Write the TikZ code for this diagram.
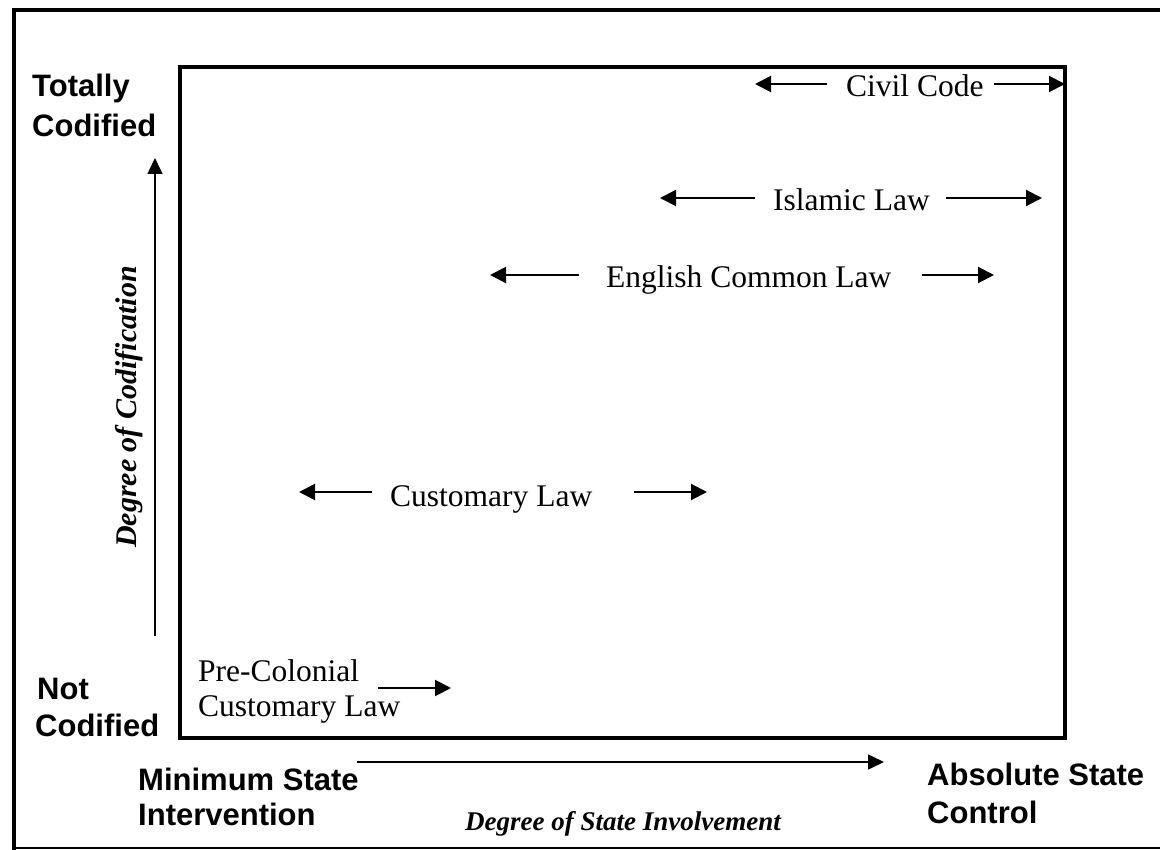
\documentclass[tikz,border=0pt]{standalone}
\usepackage{fontspec}
\setmainfont{Liberation Serif}
\newfontfamily\headfont{Liberation Sans}
\usetikzlibrary{arrows.meta}
\begin{document}
\begin{tikzpicture}[x=1pt,y=-1pt,
  axislabel/.style={font=\headfont\bfseries\fontsize{31}{37}\selectfont, anchor=base west, inner sep=0pt},
  lawlabel/.style={font=\fontsize{31.5}{36}\selectfont, anchor=base west, inner sep=0pt},
  axistitle/.style={font=\bfseries\itshape\fontsize{30}{36}\selectfont, inner sep=0pt},
  rangearrow/.style={line width=2pt, -{Triangle[length=16pt,width=16pt]}},
  axisarrow/.style={line width=1.5pt, -{Triangle[length=16pt,width=15pt]}}]
  \useasboundingbox (0,0) rectangle (1160,850);

  % outer frame
  \draw[line width=4.5pt] (14,850) -- (14,10) -- (1160,10);
  \draw[line width=2pt] (14,848) -- (1160,848);

  % plot area
  \draw[line width=4pt] (180,67) rectangle (1065,738);

  % corner labels
  \node[axislabel] (tot1) at (32,97) {Totally};
  \node[axislabel] (tot2) at (32,137) {Codified};
  \node[axislabel] (not1) at (37,699) {Not};
  \node[axislabel] (not2) at (35,736) {Codified};
  \node[axislabel] (min1) at (138,790) {Minimum State};
  \node[axislabel] (min2) at (138,825) {Intervention};
  \node[axislabel] (abs1) at (927,785) {Absolute State};
  \node[axislabel] (abs2) at (927,823) {Control};

  % axes
  \coordinate (ybot) at (155,636);
  \coordinate (ytop) at (155,158);
  \draw[axisarrow] (ybot) -- (ytop);
  \coordinate (xleft) at (357,762);
  \coordinate (xright) at (884,762);
  \draw[axisarrow] (xleft) -- (xright);
  \node[axistitle, rotate=90] (ytitle) at (129,407) {Degree of Codification};
  \node[axistitle, anchor=base, font=\bfseries\itshape\fontsize{27}{32}\selectfont] (xtitle) at (623,830) {Degree of State Involvement};

  % Civil Code
  \node[lawlabel] (civil) at (846,97) {Civil Code};
  \coordinate (civA) at (827,84); \coordinate (civB) at (755,84);
  \coordinate (civC) at (994,84); \coordinate (civD) at (1065,84);
  \draw[rangearrow] (civA) -- (civB);
  \draw[rangearrow] (civC) -- (civD);

  % Islamic Law
  \node[lawlabel] (islamic) at (773,211) {Islamic Law};
  \coordinate (islA) at (755,198); \coordinate (islB) at (660,198);
  \coordinate (islC) at (946,198); \coordinate (islD) at (1042,198);
  \draw[rangearrow] (islA) -- (islB);
  \draw[rangearrow] (islC) -- (islD);

  % English Common Law
  \node[lawlabel] (english) at (606,288) {English Common Law};
  \coordinate (engA) at (579,275); \coordinate (engB) at (490,275);
  \coordinate (engC) at (922,275); \coordinate (engD) at (994,275);
  \draw[rangearrow] (engA) -- (engB);
  \draw[rangearrow] (engC) -- (engD);

  % Customary Law
  \node[lawlabel] (custom) at (390,506) {Customary Law};
  \coordinate (cusA) at (372,492); \coordinate (cusB) at (299,492);
  \coordinate (cusC) at (634,492); \coordinate (cusD) at (707,492);
  \draw[rangearrow] (cusA) -- (cusB);
  \draw[rangearrow] (cusC) -- (cusD);

  % Pre-Colonial Customary Law
  \node[lawlabel] (pre1) at (198,681) {Pre-Colonial};
  \node[lawlabel] (pre2) at (198,716) {Customary Law};
  \coordinate (preA) at (378,688); \coordinate (preB) at (451,688);
  \draw[rangearrow] (preA) -- (preB);
\end{tikzpicture}
\end{document}
